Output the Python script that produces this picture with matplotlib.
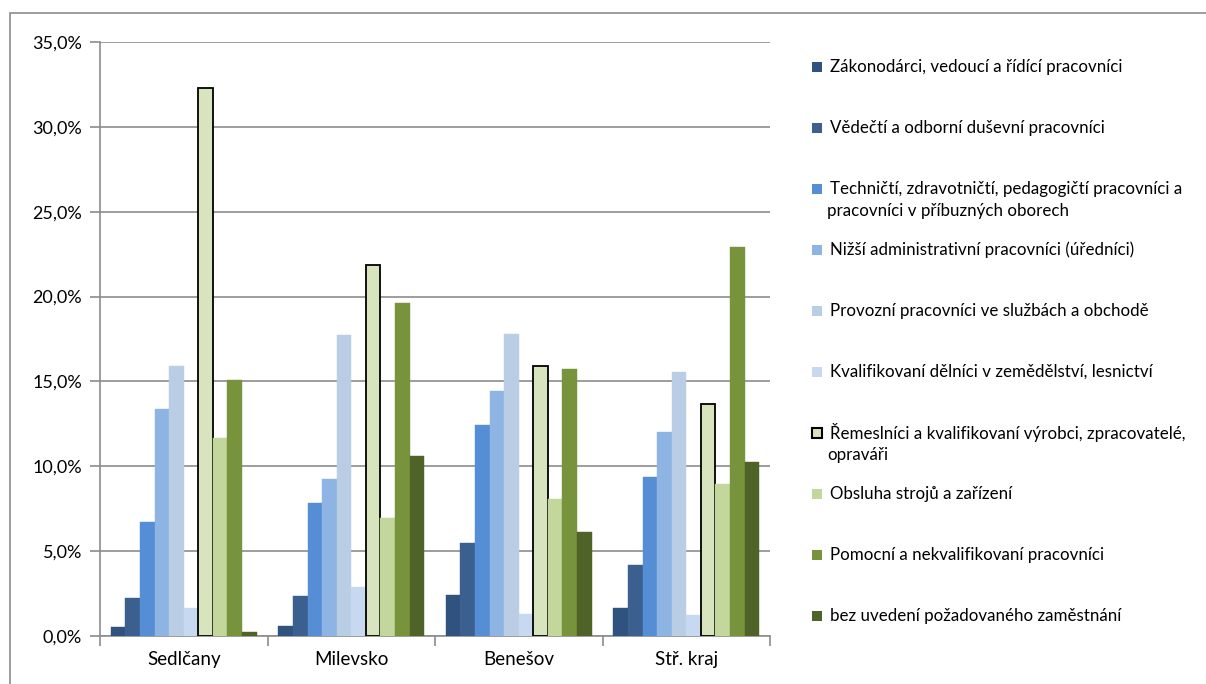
import matplotlib.pyplot as plt
import numpy as np
from matplotlib.patches import Rectangle

plt.rcParams['font.family'] = ['Lato', 'DejaVu Sans']

# data (share of job seekers, %)
regions = ['Sedlčany', 'Milevsko', 'Benešov', 'Stř. kraj']
labels = [
    'Zákonodárci, vedoucí a řídící pracovníci',
    'Vědečtí a odborní duševní pracovníci',
    'Techničtí, zdravotničtí, pedagogičtí pracovníci a\npracovníci v příbuzných oborech',
    'Nižší administrativní pracovníci (úředníci)',
    'Provozní pracovníci ve službách a obchodě',
    'Kvalifikovaní dělníci v zemědělství, lesnictví',
    'Řemeslníci a kvalifikovaní výrobci, zpracovatelé,\nopraváři',
    'Obsluha strojů a zařízení',
    'Pomocní a nekvalifikovaní pracovníci',
    'bez uvedení požadovaného zaměstnání',
]
zakonodarci = [0.54, 0.61, 2.44, 1.67]
vedecti = [2.25, 2.33, 5.46, 4.18]
technicti = [6.71, 7.86, 12.44, 9.35]
nizsi_admin = [13.39, 9.24, 14.41, 12.02]
provozni = [15.88, 17.75, 17.79, 15.54]
kval_zemed = [1.65, 2.90, 1.32, 1.22]
remeslnici = [32.27, 21.84, 15.90, 13.69]
obsluha = [11.66, 6.98, 8.10, 8.94]
pomocni = [15.08, 19.65, 15.75, 22.93]
bez_uvedeni = [0.24, 10.60, 6.11, 10.28]

series = [zakonodarci, vedecti, technicti, nizsi_admin, provozni,
          kval_zemed, remeslnici, obsluha, pomocni, bez_uvedeni]
colors = ['#30527E', '#3B608F', '#558ED5', '#8EB4E3', '#B9CDE5',
          '#C6D9F1', '#D7E4BD', '#C3D69B', '#77933C', '#4F6228']

W, H = 1206, 684
fig = plt.figure(figsize=(W / 100, H / 100), dpi=100)
ax = fig.add_axes([100 / W, 1 - 636 / H, 670 / W, 594 / H])

x = np.arange(len(regions))
w = 1 / 11.5
for i, vals in enumerate(series):
    ec = 'black' if i == 6 else colors[i]
    lw = 1.3 if i == 6 else 0.3
    ax.bar(x + (i - 4.5) * w, np.array(vals) / 100, width=w, color=colors[i],
           edgecolor=ec, linewidth=lw, zorder=3)

ax.set_xlim(-0.5, len(regions) - 0.5)
ax.set_ylim(0, 0.35)
ax.set_yticks(np.arange(0, 0.351, 0.05))
ax.set_yticklabels([f'{v:.1f}%'.replace('.', ',') for v in np.arange(0, 35.1, 5)])
ax.yaxis.grid(True, color='#8C8C8C', linewidth=1.2, zorder=0)

ax.set_xticks(np.arange(-0.5, len(regions)))
ax.set_xticklabels([])
ax.set_xticks(x, minor=True)
ax.set_xticklabels(regions, minor=True)
ax.tick_params(axis='x', which='minor', length=0, pad=11, labelsize=13.5)
ax.tick_params(axis='x', which='major', length=7, color='#8C8C8C', width=1.2)
ax.tick_params(axis='y', length=7, color='#8C8C8C', width=1.2, labelsize=13, pad=6)

for s in ['top', 'right']:
    ax.spines[s].set_visible(False)
for s in ['left', 'bottom']:
    ax.spines[s].set_color('#8C8C8C')
    ax.spines[s].set_linewidth(1.2)

# legend like excel: entries evenly spaced, wrapped lines hang below
for i, lab in enumerate(labels):
    yp = 67 + 61 * i
    ec = 'black' if i == 6 else colors[i]
    lw = 1.5 if i == 6 else 0
    fig.patches.append(Rectangle((812 / W, 1 - (yp + 5) / H), 10 / W, 10 / H,
                                 transform=fig.transFigure, facecolor=colors[i],
                                 edgecolor=ec, linewidth=lw))
    for j, line in enumerate(lab.split('\n')):
        fig.text((830 if j == 0 else 827) / W, 1 - (yp + 22 * j) / H, line,
                 fontsize=12.2, va='center', ha='left')

# chart area border
fig.patches.append(Rectangle((10 / W, -0.1), 1.2, 1 - 13 / H + 0.1,
                             transform=fig.transFigure, fill=False,
                             edgecolor='#8C8C8C', linewidth=1.2))

fig.savefig('out.png', dpi=100)
